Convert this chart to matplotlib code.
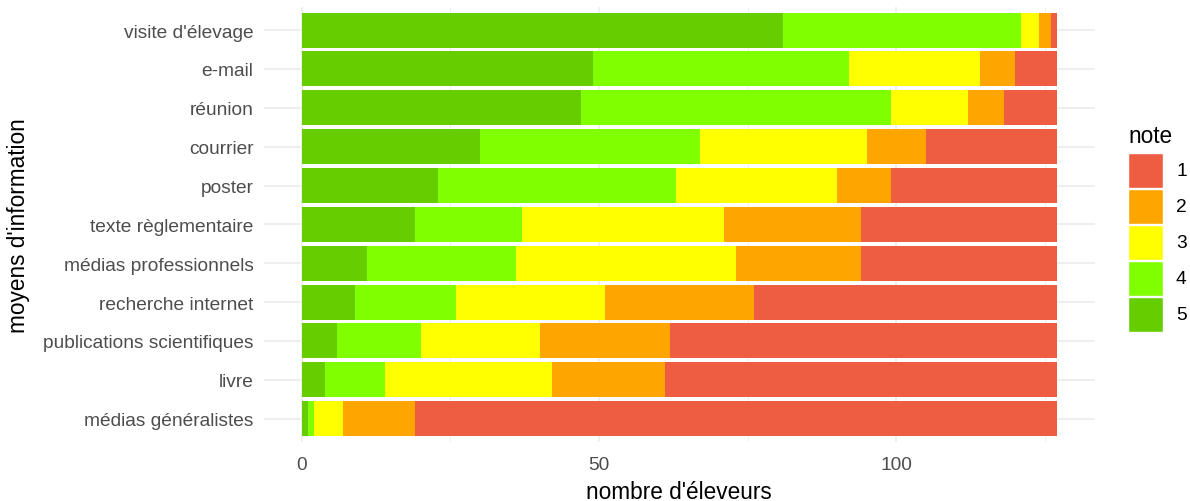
import matplotlib.pyplot as plt
from matplotlib.patches import Rectangle
import numpy as np

# categories, bottom to top
categories = ["médias généralistes", "livre", "publications scientifiques",
              "recherche internet", "médias professionnels", "texte règlementaire",
              "poster", "courrier", "réunion", "e-mail", "visite d'élevage"]

# number of farmers per score (note)
note_5 = [1, 4, 6, 9, 11, 19, 23, 30, 47, 49, 81]
note_4 = [1, 10, 14, 17, 25, 18, 40, 37, 52, 43, 40]
note_3 = [5, 28, 20, 25, 37, 34, 27, 28, 13, 22, 3]
note_2 = [12, 19, 22, 25, 21, 23, 9, 10, 6, 6, 2]
note_1 = [108, 66, 65, 51, 33, 33, 28, 22, 9, 7, 1]

notes = ["5", "4", "3", "2", "1"]
series = [note_5, note_4, note_3, note_2, note_1]
colors = {"5": "#66CD00", "4": "#80FF00", "3": "#FFFF00", "2": "#FFA500", "1": "#EE5C42"}

plt.rcParams["font.family"] = ["Liberation Sans", "DejaVu Sans"]

W, H = 1190, 502
fig = plt.figure(figsize=(W / 100, H / 100), dpi=100)
ax = fig.add_axes([0.2218, 0.1175, 0.6982, 0.867])

y = np.arange(len(categories))
left = np.zeros(len(categories))
for note, vals in zip(notes, series):
    ax.barh(y, vals, left=left, height=0.9, color=colors[note], linewidth=0, zorder=2)
    left += np.array(vals)

total = left.max()
ax.set_xlim(-0.05 * total, total * 1.05)
ax.set_ylim(-0.6, len(categories) - 0.4)

ax.set_yticks(y)
ax.set_yticklabels(categories)
ax.set_xticks([0, 50, 100])
ax.set_xticks([25, 75, 125], minor=True)
ax.tick_params(axis="both", which="both", length=0, labelsize=13.8, labelcolor="#4D4D4D")
ax.tick_params(axis="y", pad=7.5)
ax.tick_params(axis="x", pad=10)

ax.grid(True, which="major", color="#EBEBEB", linewidth=1.1, zorder=0)
ax.grid(True, which="minor", axis="x", color="#EBEBEB", linewidth=0.55, zorder=0)
for s in ax.spines.values():
    s.set_visible(False)

ax.set_xlabel("nombre d'éleveurs", fontsize=16.3)
ax.set_ylabel("moyens d'information", fontsize=16.3)
ax.xaxis.set_label_coords(0.5, -0.088)
ax.yaxis.set_label_coords(-0.281, 0.5)

# legend drawn in pixel coordinates, 1 on top
lax = fig.add_axes([0, 0, 1, 1], zorder=3)
lax.set_xlim(0, W)
lax.set_ylim(H, 0)
lax.axis("off")
lax.text(1128, 143, "note", fontsize=16.3, ha="left", va="baseline")
for i, n in enumerate(["1", "2", "3", "4", "5"]):
    top = 154 + i * 36
    lax.add_patch(Rectangle((1128, top), 35, 35, facecolor=colors[n],
                            edgecolor="white", linewidth=1))
    lax.text(1176, top + 18, n, fontsize=13.8, ha="left", va="center")

fig.savefig("out.png", dpi=100)
